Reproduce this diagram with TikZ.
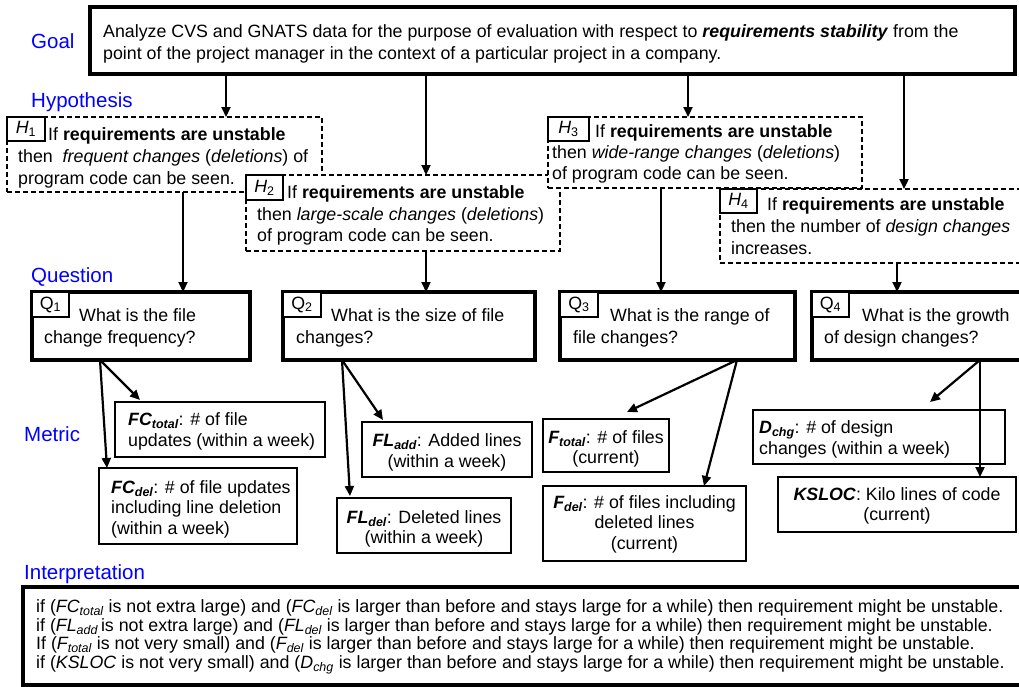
\documentclass[tikz,border=0pt]{standalone}
\usepackage{fontspec}
\setmainfont{Liberation Sans}
\usetikzlibrary{arrows.meta}
\newcommand\bodyf{\fontsize{17.8}{21}\selectfont}
\newcommand\labf{\fontsize{20.5}{24}\selectfont}
\newcommand\intf{\fontsize{17.8}{19}\selectfont}
\newcommand\boxat[6]{\node[#2, inner sep=0pt, outer sep=0pt, anchor=north west, minimum width=#5pt-#3pt, minimum height=#6pt-#4pt] (#1) at (#3,#4) {};}
\newcommand\tagat[5]{\node[tagbox, minimum width=#4pt, minimum height=#5pt] (#1) at (#2,#3) {};}
\newcommand\tl[4]{\node[txt] (#1) at (#2,#3) {#4};}
\newcommand\tc[4]{\node[txtc] (#1) at (#2,#3) {#4};}
\newcommand\il[4]{\node[itxt] (#1) at (#2,#3) {#4};}
\newcommand\bi[2]{\textbf{\textit{#1\textsubscript{#2}}}}
\tikzset{
  txt/.style={font=\bodyf, inner sep=0pt, anchor=base west},
  txtc/.style={font=\bodyf, inner sep=0pt, anchor=base},
  itxt/.style={font=\intf, inner sep=0pt, anchor=base west},
  lab/.style={font=\labf, text=blue, inner sep=0pt, anchor=base west},
  thickbox/.style={draw, line width=3.3pt, fill=white},
  hbox/.style={draw, dash pattern=on 5pt off 3pt, line width=1.7pt, fill=white},
  mbox/.style={draw, line width=1.4pt, fill=white},
  tagbox/.style={draw, line width=1.1pt, inner sep=0pt, outer sep=0pt, anchor=north west, fill=white},
  tagtext/.style={font=\bodyf, inner sep=0pt},
  arr/.style={line width=2.2pt, -{Triangle[length=10pt,width=9pt]}},
}
\begin{document}
\begin{tikzpicture}[x=1pt,y=-1pt]
\fill[white] (0,0) rectangle (1019,686);
\useasboundingbox (0,0) rectangle (1019,686);

% section labels
\node[lab] (lgoal) at (31,48.5) {Goal};
\node[lab] (lhyp) at (31,107.5) {Hypothesis};
\node[lab] (lque) at (31,282) {Question};
\node[lab] (lmet) at (24,441.5) {Metric};
\node[lab] (lint) at (24,579.5) {Interpretation};

% goal
\boxat{goal}{thickbox}{90}{7}{1015}{74}
\tl{g1}{103}{37.5}{Analyze CVS and GNATS data for the purpose of evaluation with respect to \textbf{\textit{requirements stability}} from the}
\tl{g2}{103}{59.5}{point of the project manager in the context of a particular project in a company.}

% connector x positions
\coordinate (x1) at (226,0);
\coordinate (x2) at (426,0);
\coordinate (x3) at (688,0);
\coordinate (x4) at (904,0);

% H1
\boxat{h1}{hbox}{7}{117}{322}{192}
\tagat{h1l}{7}{117}{38}{24}
\node[tagtext] (h1t) at (h1l.center) {\textit{H}\textsubscript{1}};
\tl{h1a}{48}{140}{If \textbf{requirements are unstable}}
\tl{h1b}{18}{162}{then\ \ \textit{frequent changes} (\textit{deletions}) of}
\tl{h1c}{18}{184}{program code can be seen.}

% H2
\boxat{h2}{hbox}{246}{175}{560}{251}
\tagat{h2l}{246}{175}{37}{25}
\node[tagtext] (h2t) at (h2l.center) {\textit{H}\textsubscript{2}};
\tl{h2a}{287}{198}{If \textbf{requirements are unstable}}
\tl{h2b}{257}{220}{then \textit{large-scale changes} (\textit{deletions})}
\tl{h2c}{257}{241}{of program code can be seen.}

% H3
\boxat{h3}{hbox}{548}{117}{862}{188}
\tagat{h3l}{548}{117}{41}{24}
\node[tagtext] (h3t) at (h3l.center) {\textit{H}\textsubscript{3}};
\tl{h3a}{595}{137}{If \textbf{requirements are unstable}}
\tl{h3b}{552}{158}{then \textit{wide-range changes} (\textit{deletions})}
\tl{h3c}{552}{179}{of program code can be seen.}

% H4
\boxat{h4}{hbox}{720}{189}{1030}{263}
\tagat{h4l}{720}{189}{37}{24}
\node[tagtext] (h4t) at (h4l.center) {\textit{H}\textsubscript{4}};
\tl{h4a}{767}{210}{If \textbf{requirements are unstable}}
\tl{h4b}{731}{232}{then the number of \textit{design changes}}
\tl{h4c}{731}{254}{increases.}

% goal -> hypotheses
\draw[arr] (goal.south -| x1) -- (h1.north -| x1);
\draw[arr] (goal.south -| x2) -- (h2.north -| x2);
\draw[arr] (goal.south -| x3) -- (h3.north -| x3);
\draw[arr] (goal.south -| x4) -- (h4.north -| x4);

% questions
\boxat{q1}{thickbox}{32}{292}{250}{360}
\tagat{q1l}{32}{292}{37}{25}
\node[tagtext] (q1t) at (q1l.center) {Q\textsubscript{1}};
\tl{q1a}{79}{321.5}{What is the file}
\tl{q1b}{44}{343.5}{change frequency?}

\boxat{q2}{thickbox}{283}{292}{535}{360}
\tagat{q2l}{283}{292}{38}{25}
\node[tagtext] (q2t) at (q2l.center) {Q\textsubscript{2}};
\tl{q2a}{331}{321.5}{What is the size of file}
\tl{q2b}{296}{343.5}{changes?}

\boxat{q3}{thickbox}{560}{292}{795}{360}
\tagat{q3l}{560}{292}{38}{25}
\node[tagtext] (q3t) at (q3l.center) {Q\textsubscript{3}};
\tl{q3a}{610}{321.5}{What is the range of}
\tl{q3b}{573}{343.5}{file changes?}

\boxat{q4}{thickbox}{812}{292}{1030}{360}
\tagat{q4l}{812}{292}{37}{25}
\node[tagtext] (q4t) at (q4l.center) {Q\textsubscript{4}};
\tl{q4a}{862}{321.5}{What is the growth}
\tl{q4b}{824}{343.5}{of design changes?}

% hypotheses -> questions
\coordinate (y1) at (183,0);
\coordinate (y2) at (426,0);
\coordinate (y3) at (661,0);
\coordinate (y4) at (897,0);
\draw[arr] (h1.south -| y1) -- (q1.north -| y1);
\draw[arr] (h2.south -| y2) -- (q2.north -| y2);
\draw[arr] (h3.south -| y3) -- (q3.north -| y3);
\draw[arr] (h4.south -| y4) -- (q4.north -| y4);

% metrics
\boxat{fct}{mbox}{115}{402}{325}{457}
\tl{m1a}{128}{425}{\bi{FC}{total}: \# of file}
\tl{m1b}{128}{446}{updates (within a week)}

\boxat{fcd}{mbox}{99}{468}{297}{544}
\tl{m2a}{111}{493}{\bi{FC}{del}: \# of file updates}
\tl{m2b}{111}{513.5}{including line deletion}
\tl{m2c}{111}{534.5}{(within a week)}

\boxat{fla}{mbox}{362}{422}{532}{477}
\tc{m3a}{447}{446}{\bi{FL}{add}: Added lines}
\tc{m3b}{447}{467}{(within a week)}

\boxat{fld}{mbox}{337}{498}{511}{553}
\tc{m4a}{424}{523}{\bi{FL}{del}: Deleted lines}
\tc{m4b}{424}{543}{(within a week)}

\boxat{ftt}{mbox}{543}{419}{669}{472}
\tc{m5a}{606}{443}{\bi{F}{total}: \# of files}
\tc{m5b}{606}{463}{(current)}

\boxat{fde}{mbox}{543}{486}{746}{561}
\tc{m6a}{644.5}{508}{\bi{F}{del}: \# of files including}
\tc{m6b}{644.5}{528.5}{deleted lines}
\tc{m6c}{644.5}{549}{(current)}

\boxat{dch}{mbox}{753}{410}{1005}{464}
\tl{m7a}{759}{433}{\bi{D}{chg}: \# of design}
\tl{m7b}{759}{454}{changes (within a week)}

\boxat{ksl}{mbox}{778}{477}{1016}{532}
\tc{m8a}{897}{500}{\textbf{\textit{KSLOC}}: Kilo lines of code}
\tc{m8b}{897}{520}{(current)}

% questions -> metrics
\coordinate (s1) at (100,0);
\coordinate (s2) at (342,0);
\coordinate (s3) at (737,0);
\coordinate (s4) at (980,0);
\coordinate (e1) at (140,400);
\coordinate (e2) at (107,468);
\coordinate (e3) at (383,420);
\coordinate (e4) at (350,496);
\coordinate (e5) at (627,412);
\coordinate (e6) at (704,486);
\coordinate (e7) at (930,402);
\coordinate (e8) at (980,477);
\draw[arr] (q1.south -| s1) -- (e1);
\draw[arr] (q1.south -| s1) -- (e2);
\draw[arr] (q2.south -| s2) -- (e3);
\draw[arr] (q2.south -| s2) -- (e4);
\draw[arr] (q3.south -| s3) -- (e5);
\draw[arr] (q3.south -| s3) -- (e6);
\draw[arr] (q4.south -| s4) -- (e7);
\draw[arr] (q4.south -| s4) -- (e8);

% interpretation
\boxat{interp}{thickbox}{23}{587}{1030}{685}
\il{i1}{36}{612.5}{if (\textit{FC\textsubscript{total}} is not extra large) and (\textit{FC\textsubscript{del}} is larger than before and stays large for a while) then requirement might be unstable.}
\il{i2}{36}{631}{if (\textit{FL\textsubscript{add}}\,is not extra large) and (\textit{FL\textsubscript{del}} is larger than before and stays large for a while) then requirement might be unstable.}
\il{i3}{36}{649.5}{If (\textit{F\textsubscript{total}} is not very small) and (\textit{F\textsubscript{del}} is larger than before and stays large for a while) then requirement might be unstable.}
\il{i4}{36}{668}{if (\textit{KSLOC} is not very small) and (\textit{D\textsubscript{chg}} is larger than before and stays large for a while) then requirement might be unstable.}
\end{tikzpicture}
\end{document}
